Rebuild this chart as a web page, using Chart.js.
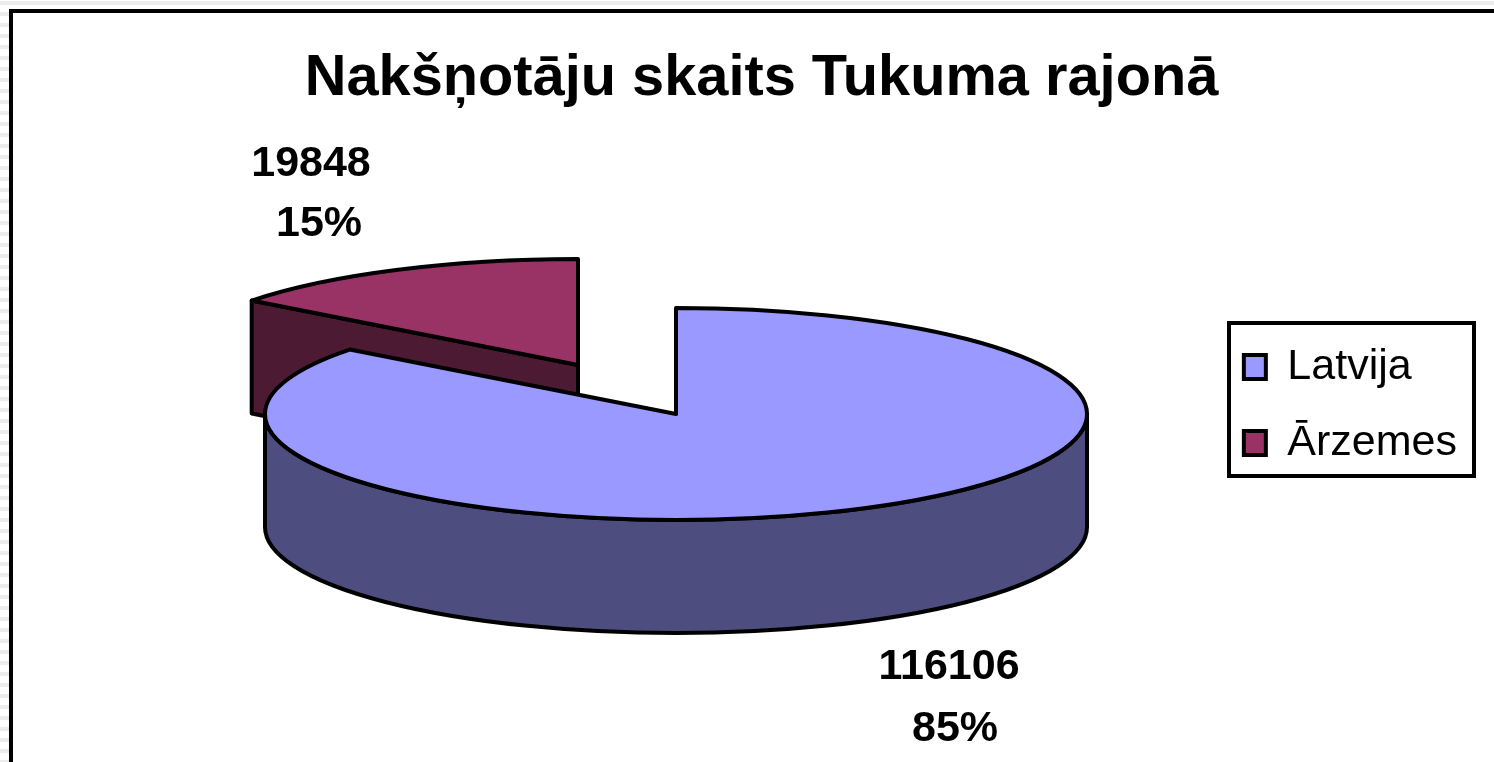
<!DOCTYPE html>
<html><head><meta charset="utf-8">
<style>
html,body{margin:0;padding:0;background:#fff;overflow:hidden}
#wrap{position:relative;width:1494px;height:762px}
canvas{display:block;position:absolute;left:0;top:0}
#topband{position:absolute;left:0;top:1px;width:1494px;height:4px;background:#ececec}
#leftband{position:absolute;left:0;top:5px;width:9px;height:757px;background:repeating-linear-gradient(to bottom,#fff 0,#fff 7px,#ececec 7px,#ececec 11px)}
#frame{position:absolute;left:9px;top:9px;width:1485px;height:753px;border-left:4px solid #000;border-top:4px solid #000;box-sizing:border-box}
</style>
<script src="https://cdn.jsdelivr.net/npm/chart.js@4/dist/chart.umd.min.js"></script>
</head><body>
<div id="wrap"><div id="topband"></div><div id="leftband"></div>
<canvas id="c" width="1494" height="762"></canvas><div id="frame"></div></div>
<script>
const chartTitle = "Nakšņotāju skaits Tukuma rajonā";
const categories = ["Latvija", "Ārzemes"];
const values = [116106, 19848];
const topColors = ["#9999FF", "#993366"];
const wallColors = ["#4D4D80", "#4D1A33"];

// 3-D projection of the pie
const CX = 676, CY = 414, RX = 411, RY = 106, DEPTH = 113;
const explodeShift = [[0, 0], [-98, -49]];
// label centres: [value line, percent line]
const labelPos = [[[949, 667], [955, 729]], [[311, 164], [319, 224]]];
const legendFrame = { left: 1229, top: 323, right: 1474, bottom: 476 };
const LINE = 4;

const total = values.reduce((a, b) => a + b, 0);

const pie3d = {
  id: 'pie3d',
  beforeDatasetsDraw(chart) {
    const { ctx } = chart;
    const arcs = chart.getDatasetMeta(0).data;
    const order = [1, 0]; // exploded slice sits behind
    ctx.save();
    ctx.lineWidth = LINE;
    ctx.lineJoin = 'round';
    ctx.strokeStyle = '#000';
    order.forEach(i => {
      const el = arcs[i];
      const [sx, sy] = explodeShift[i];
      const cx = CX + sx, cy = CY + sy;
      const a0 = el.startAngle, a1 = el.endAngle;
      // side wall
      ctx.beginPath();
      if (i === 0) {
        ctx.ellipse(cx, cy, RX, RY, 0, 0, Math.PI);
        ctx.lineTo(cx - RX, cy + DEPTH);
        ctx.ellipse(cx, cy + DEPTH, RX, RY, 0, Math.PI, 0, true);
      } else {
        const ex = cx + RX * Math.cos(a0), ey = cy + RY * Math.sin(a0);
        ctx.moveTo(cx, cy);
        ctx.lineTo(ex, ey);
        ctx.lineTo(ex, ey + DEPTH);
        ctx.lineTo(cx, cy + DEPTH);
      }
      ctx.closePath();
      ctx.fillStyle = wallColors[i];
      ctx.fill();
      ctx.stroke();
      // top face: library arc through the projection
      ctx.save();
      ctx.translate(cx, cy);
      ctx.scale(RX / el.outerRadius, RY / el.outerRadius);
      ctx.translate(-el.x, -el.y);
      el.draw(ctx);
      ctx.restore();
      // outline at constant width
      ctx.beginPath();
      ctx.moveTo(cx, cy);
      ctx.ellipse(cx, cy, RX, RY, 0, a0, a1);
      ctx.closePath();
      ctx.stroke();
    });
    ctx.restore();
    return false;
  },
  afterDraw(chart) {
    const { ctx } = chart;
    const f = legendFrame;
    ctx.save();
    ctx.lineWidth = LINE;
    ctx.strokeStyle = '#000';
    ctx.strokeRect(f.left, f.top, f.right - f.left, f.bottom - f.top);
    ctx.fillStyle = '#000';
    ctx.font = 'bold 43px "Liberation Sans"';
    ctx.textAlign = 'center';
    ctx.textBaseline = 'middle';
    values.forEach((v, i) => {
      const pct = Math.round(v / total * 100) + '%';
      ctx.fillText(String(v), labelPos[i][0][0], labelPos[i][0][1]);
      ctx.fillText(pct, labelPos[i][1][0], labelPos[i][1][1]);
    });
    ctx.restore();
  }
};

new Chart(document.getElementById('c'), {
  type: 'pie',
  data: {
    labels: categories,
    datasets: [{ data: values, backgroundColor: topColors, borderWidth: 0 }]
  },
  options: {
    responsive: false,
    animation: false,
    events: [],
    layout: { padding: { left: 56, right: 27, top: 0, bottom: -48 } },
    plugins: {
      tooltip: { enabled: false },
      title: {
        display: true,
        text: chartTitle,
        color: '#000',
        font: { family: '"Liberation Sans"', size: 57.75, weight: 'bold' },
        padding: { top: 44, bottom: 10 }
      },
      legend: {
        position: 'right',
        labels: {
          color: '#000',
          font: { family: '"Liberation Sans"', size: 43 },
          boxWidth: 22, boxHeight: 24,
          padding: 33,
          generateLabels(chart) {
            return categories.map((t, i) => ({
              text: t, fillStyle: topColors[i], strokeStyle: '#000',
              lineWidth: 4, fontColor: '#000', index: i, hidden: false
            }));
          }
        }
      }
    }
  },
  plugins: [pie3d]
});
</script>
</body></html>
